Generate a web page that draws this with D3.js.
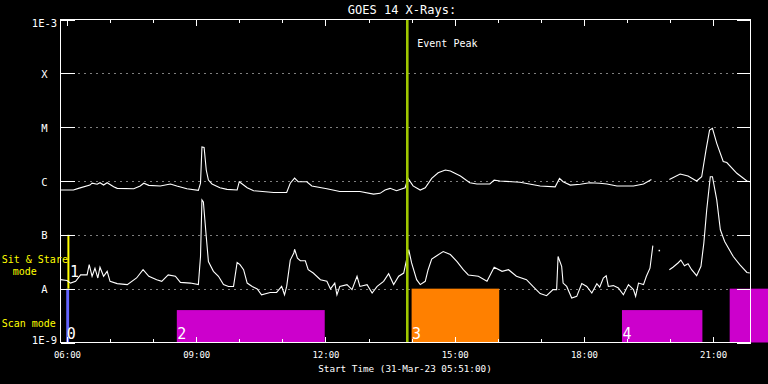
<!DOCTYPE html>
<html><head><meta charset="utf-8">
<script src="https://cdn.jsdelivr.net/npm/d3@7"></script>
<style>
html,body{margin:0;padding:0;background:#000;}
svg{display:block;background:#000;}
text{font-family:"DejaVu Sans Mono",monospace;fill:#fff;}
</style></head><body>
<svg id="c" width="768" height="384"></svg>
<script>
// ---------- data ----------
const day = "2023-03-31";
const timeStart = "05:51", timeEnd = "21:52";
const titleText = "GOES 14 X-Rays:";
const xAxisTitle = "Start Time (31-Mar-23 05:51:00)";
const levelLabels = ["1E-9","A","B","C","M","X","1E-3"];
const levelValues = [1e-9,1e-8,1e-7,1e-6,1e-5,1e-4,1e-3];
const majorTickTimes = ["06:00","09:00","12:00","15:00","18:00","21:00"];
const eventPeak = "13:54";

// long channel (1-8 A), upper curve
const longTimes = ["05:51","06:09","06:16","06:32","06:35","06:42","06:46","06:51","06:56","07:05","07:10","07:33","07:42","07:47","07:54","08:10","08:24","08:33","08:47","09:03","09:06","09:08","09:11","09:14","09:17","09:22","09:33","09:43","09:57","10:00","10:11","10:20","10:48","11:06","11:11","11:17","11:22","11:34","11:41","12:02","12:20","12:48","13:07","13:16","13:23","13:30","13:39","13:51","13:55","14:02","14:12","14:19","14:28","14:37","14:47","14:54","15:08","15:21","15:31","15:49","15:55","16:03","16:31","16:59","17:20","17:26","17:31","17:41","17:55","18:08","18:22","18:32","18:46","19:09","19:23","19:34","19:45","19:59","20:14","20:25","20:37","20:44","20:50","20:55","20:59","21:05","21:14","21:19","21:33","21:47","21:51"];
const longFlux = [6.8e-7,6.8e-7,7.3e-7,8.4e-7,9.1e-7,8.7e-7,9.3e-7,8.4e-7,9.3e-7,7.8e-7,7.3e-7,7.2e-7,8.1e-7,9.1e-7,8.3e-7,8.1e-7,8.8e-7,8.1e-7,7.2e-7,6.7e-7,9.1e-7,4.3e-6,4.2e-6,1.6e-6,1.04e-6,8.8e-7,7.5e-7,7.0e-7,6.8e-7,9.7e-7,7.5e-7,6.6e-7,6.1e-7,6.1e-7,9.1e-7,1.13e-6,9.7e-7,9.7e-7,8.1e-7,7.2e-7,6.4e-7,6.4e-7,5.7e-7,5.9e-7,6.8e-7,7.3e-7,6.6e-7,7.5e-7,1.12e-6,8.1e-7,6.8e-7,7.5e-7,1.12e-6,1.42e-6,1.6e-6,1.53e-6,1.24e-6,9.3e-7,8.8e-7,8.8e-7,1.04e-6,1.0e-6,9.5e-7,8.1e-7,7.8e-7,1.12e-6,9.7e-7,8.4e-7,8.7e-7,9.3e-7,9.1e-7,8.8e-7,8.1e-7,8.1e-7,8.8e-7,1.07e-6,null,1.07e-6,1.35e-6,1.24e-6,1.0e-6,1.2e-6,3.75e-6,8.8e-6,9.5e-6,5.0e-6,2.3e-6,2.2e-6,1.39e-6,1.0e-6,9.7e-7];

// short channel (0.5-4 A), lower curve
const shortTimes = ["05:51","06:00","06:05","06:12","06:19","06:28","06:31","06:35","06:39","06:43","06:46","06:51","06:56","07:00","07:10","07:24","07:37","07:46","07:54","08:05","08:12","08:21","08:31","08:38","08:52","09:03","09:06","09:08","09:10","09:14","09:17","09:24","09:31","09:38","09:45","09:52","09:57","10:01","10:06","10:11","10:18","10:25","10:31","10:43","10:52","10:59","11:03","11:06","11:11","11:16","11:17","11:21","11:25","11:32","11:36","11:43","11:53","12:02","12:07","12:13","12:16","12:20","12:30","12:37","12:44","12:48","12:58","13:05","13:12","13:21","13:28","13:35","13:42","13:49","13:51","13:56","14:00","14:07","14:12","14:19","14:23","14:28","14:35","14:44","14:54","15:03","15:12","15:19","15:33","15:45","15:55","16:06","16:15","16:26","16:40","16:49","16:59","17:08","17:17","17:22","17:24","17:29","17:31","17:36","17:43","17:50","17:57","18:04","18:11","18:18","18:22","18:27","18:31","18:34","18:41","18:48","18:55","19:02","19:09","19:12","19:16","19:23","19:27","19:32","19:36","19:40","19:45","19:50","19:59","20:04","20:11","20:15","20:20","20:25","20:30","20:37","20:43","20:47","20:51","20:56","20:59","21:05","21:10","21:16","21:28","21:37","21:47","21:51"];
const shortFlux = [1.47e-8,1.42e-8,1.27e-8,1.37e-8,1.8e-8,1.8e-8,2.8e-8,1.7e-8,2.4e-8,1.58e-8,2.5e-8,1.7e-8,2.1e-8,1.37e-8,1.24e-8,1.19e-8,1.58e-8,2.25e-8,1.7e-8,1.47e-8,1.37e-8,1.8e-8,1.7e-8,1.31e-8,1.27e-8,1.19e-8,3.95e-8,4.45e-7,4.1e-7,9.3e-8,3.2e-8,2.1e-8,1.7e-8,1.19e-8,1.1e-8,1.1e-8,3.07e-8,2.8e-8,2.25e-8,1.27e-8,1.1e-8,9.9e-9,7.7e-9,8.5e-9,8.5e-9,1.1e-8,7.7e-9,1.1e-8,3.4e-8,4.6e-8,5.4e-8,3.7e-8,3.3e-8,3.3e-8,2.25e-8,1.95e-8,1.47e-8,1.37e-8,9.9e-9,1.27e-8,7.7e-9,1.1e-8,1.19e-8,9.6e-9,1.7e-8,1.1e-8,1.19e-8,8.3e-9,1.1e-8,1.37e-8,1.9e-8,1.19e-8,1.7e-8,1.95e-8,2.6e-8,5.3e-8,3.0e-8,1.47e-8,1.19e-8,1.37e-8,2.25e-8,3.55e-8,4.1e-8,4.9e-8,4.3e-8,3.2e-8,2.25e-8,1.8e-8,1.7e-8,1.37e-8,2.5e-8,2.1e-8,2.25e-8,1.7e-8,1.47e-8,1.1e-8,8.1e-9,7.4e-9,9.6e-9,9.6e-9,3.95e-8,2.6e-8,1.27e-8,1.1e-8,6.7e-9,7.2e-9,1.24e-8,1.1e-8,8.3e-9,1.24e-8,1.07e-8,1.58e-8,1.74e-8,1.1e-8,1.14e-8,1.03e-8,7.7e-9,1.19e-8,9.6e-9,7.2e-9,1.27e-8,1.19e-8,1.7e-8,2.4e-8,6.3e-8,null,5.1e-8,null,2.25e-8,2.5e-8,3.0e-8,3.4e-8,2.67e-8,2.9e-8,2.25e-8,1.74e-8,2.6e-8,7.0e-8,2.9e-7,1.2e-6,1.2e-6,4.45e-7,1.24e-7,7.5e-8,3.95e-8,2.8e-8,2.0e-8,1.95e-8];

// observing modes
const modeNames  = ["0","1","2","3","4",""];
const modeStart  = ["05:59","06:02","08:33","14:00","18:53","21:23"];
const modeEnd    = ["06:03","06:02","11:59","16:02","20:45","22:20"];
const modeTop    = [1e-8,1e-7,4e-9,1e-8,4e-9,1e-8];
const modeBottom = [1e-9,1e-8,1e-9,1e-9,1e-9,1e-9];
const modeColors = ["#6464ff","#ffff00","#cc00cc","#ff8000","#cc00cc","#cc00cc"];

// ---------- drawing ----------
const parse = t => d3.timeParse("%Y-%m-%d %H:%M")(day + " " + t);
const L = 60.5, R = 750.5, T = 19.5, B = 342.5;
const x = d3.scaleTime().domain([parse(timeStart), parse(timeEnd)]).range([L, R]);
const y = d3.scaleLog().domain([1e-9, 1e-3]).range([B, T]);
const svg = d3.select("#c");

// title
svg.append("text").attr("x", 402).attr("y", 13.5).attr("text-anchor", "middle")
  .style("font-size", "12px").text(titleText);

// dotted grid at class levels
const gridLevels = levelValues.slice(1, 6);
svg.append("g").selectAll("line").data(gridLevels).join("line")
  .attr("x1", L + 18).attr("x2", R - 15)
  .attr("y1", d => Math.round(y(d)) + 0.5).attr("y2", d => Math.round(y(d)) + 0.5)
  .attr("stroke", "#fff").attr("stroke-width", 1).attr("stroke-dasharray", "1,5");

// mode bars
const modes = modeNames.map((n, i) => ({name: n, s: parse(modeStart[i]), e: parse(modeEnd[i]),
  top: modeTop[i], bot: modeBottom[i], color: modeColors[i], i}));
const gm = svg.append("g");
modes.forEach(m => {
  if (+m.s === +m.e) {
    gm.append("line").attr("x1", x(m.s)).attr("x2", x(m.s))
      .attr("y1", y(m.top)).attr("y2", y(m.bot)).attr("stroke", m.color).attr("stroke-width", 2);
  } else {
    gm.append("rect").attr("x", x(m.s)).attr("width", x(m.e) - x(m.s))
      .attr("y", y(m.top)).attr("height", y(m.bot) - y(m.top)).attr("fill", m.color);
  }
});
gm.selectAll("text").data(modes.filter(m => m.name !== "")).join("text")
  .attr("x", m => x(m.s) + (m.i === 1 ? 1.5 : 0.5))
  .attr("y", m => y(m.bot) - (m.i === 1 ? 12 : 4))
  .style("font-size", "15px").text(m => m.name);

// curves
const mk = (ts, vs) => ts.map((t, i) => ({t: parse(t), v: vs[i]}));
const longData = mk(longTimes, longFlux);
const shortData = mk(shortTimes, shortFlux);
const line = d3.line().defined(d => d.v != null).x(d => x(d.t)).y(d => y(d.v));
[longData, shortData].forEach(data => {
  svg.append("path").datum(data).attr("d", line).attr("fill", "none")
    .attr("stroke", "#fff").attr("stroke-width", 1.1).attr("stroke-linejoin", "miter");
  const iso = data.filter((d, i) => d.v != null && (i > 0 && data[i-1].v == null) && (i < data.length-1 && data[i+1].v == null));
  svg.append("g").selectAll("rect").data(iso).join("rect")
    .attr("x", d => x(d.t) - 0.75).attr("y", d => y(d.v) - 0.75)
    .attr("width", 1.5).attr("height", 1.5).attr("fill", "#fff");
});

// event peak
svg.append("line").attr("x1", x(parse(eventPeak))).attr("x2", x(parse(eventPeak)))
  .attr("y1", T).attr("y2", B).attr("stroke", "#a0c800").attr("stroke-width", 2.6);
svg.append("text").attr("x", x(parse(eventPeak)) + 10).attr("y", 46.7)
  .style("font-size", "10px").text("Event Peak");

// axes
const majors = majorTickTimes.map(parse);
const minors = d3.timeHour.range(parse("06:00"), parse(timeEnd));
function styleAxis(g) {
  g.attr("shape-rendering", "crispEdges");
  g.select(".domain").remove();
  g.selectAll("line").attr("stroke", "#fff");
  g.selectAll("text").attr("fill", "#fff").style("font-family", '"DejaVu Sans Mono",monospace');
}
svg.append("g").attr("transform", `translate(0,${B})`)
  .call(d3.axisBottom(x).tickValues(minors).tickSize(-3.5).tickFormat("")).call(styleAxis);
svg.append("g").attr("transform", `translate(0,${B})`)
  .call(d3.axisBottom(x).tickValues(majors).tickSize(-6).tickPadding(9)
    .tickFormat(d3.timeFormat("%H:%M"))).call(styleAxis)
  .selectAll("text").style("font-size", "9px");
svg.append("g").attr("transform", `translate(0,${T})`)
  .call(d3.axisTop(x).tickValues(minors).tickSize(-3.5).tickFormat("")).call(styleAxis);
svg.append("g").attr("transform", `translate(0,${T})`)
  .call(d3.axisTop(x).tickValues(majors).tickSize(-6).tickFormat("")).call(styleAxis);

const yl = svg.append("g").attr("transform", `translate(${L},0)`)
  .call(d3.axisLeft(y).tickValues(levelValues).tickSize(-14).tickPadding(16)
    .tickFormat((d, i) => levelLabels[i])).call(styleAxis);
yl.selectAll("text").attr("x", -16).attr("text-anchor", "middle").style("font-size", "10.5px")
  .attr("dy", (d) => d === 1e-3 ? "7.2" : d === 1e-9 ? "0.8" : "4");
svg.append("g").attr("transform", `translate(${R},0)`)
  .call(d3.axisRight(y).tickValues(levelValues).tickSize(-14).tickFormat("")).call(styleAxis);

// frame
svg.append("rect").attr("x", L).attr("y", T).attr("width", R - L).attr("height", B - T)
  .attr("fill", "none").attr("stroke", "#fff").attr("stroke-width", 1).attr("shape-rendering", "crispEdges");

// x axis title
svg.append("text").attr("x", 405).attr("y", 372).attr("text-anchor", "middle")
  .style("font-size", "9.3px").text(xAxisTitle);

// mode legend labels
const yel = "#ffff00";
svg.append("text").attr("x", 1.7).attr("y", 263).style("fill", yel).style("font-size", "10px").text("Sit & Stare");
svg.append("text").attr("x", 12.7).attr("y", 275).style("fill", yel).style("font-size", "10px").text("mode");
svg.append("text").attr("x", 1.7).attr("y", 327).style("fill", yel).style("font-size", "10px").text("Scan mode");
</script>
</body></html>
